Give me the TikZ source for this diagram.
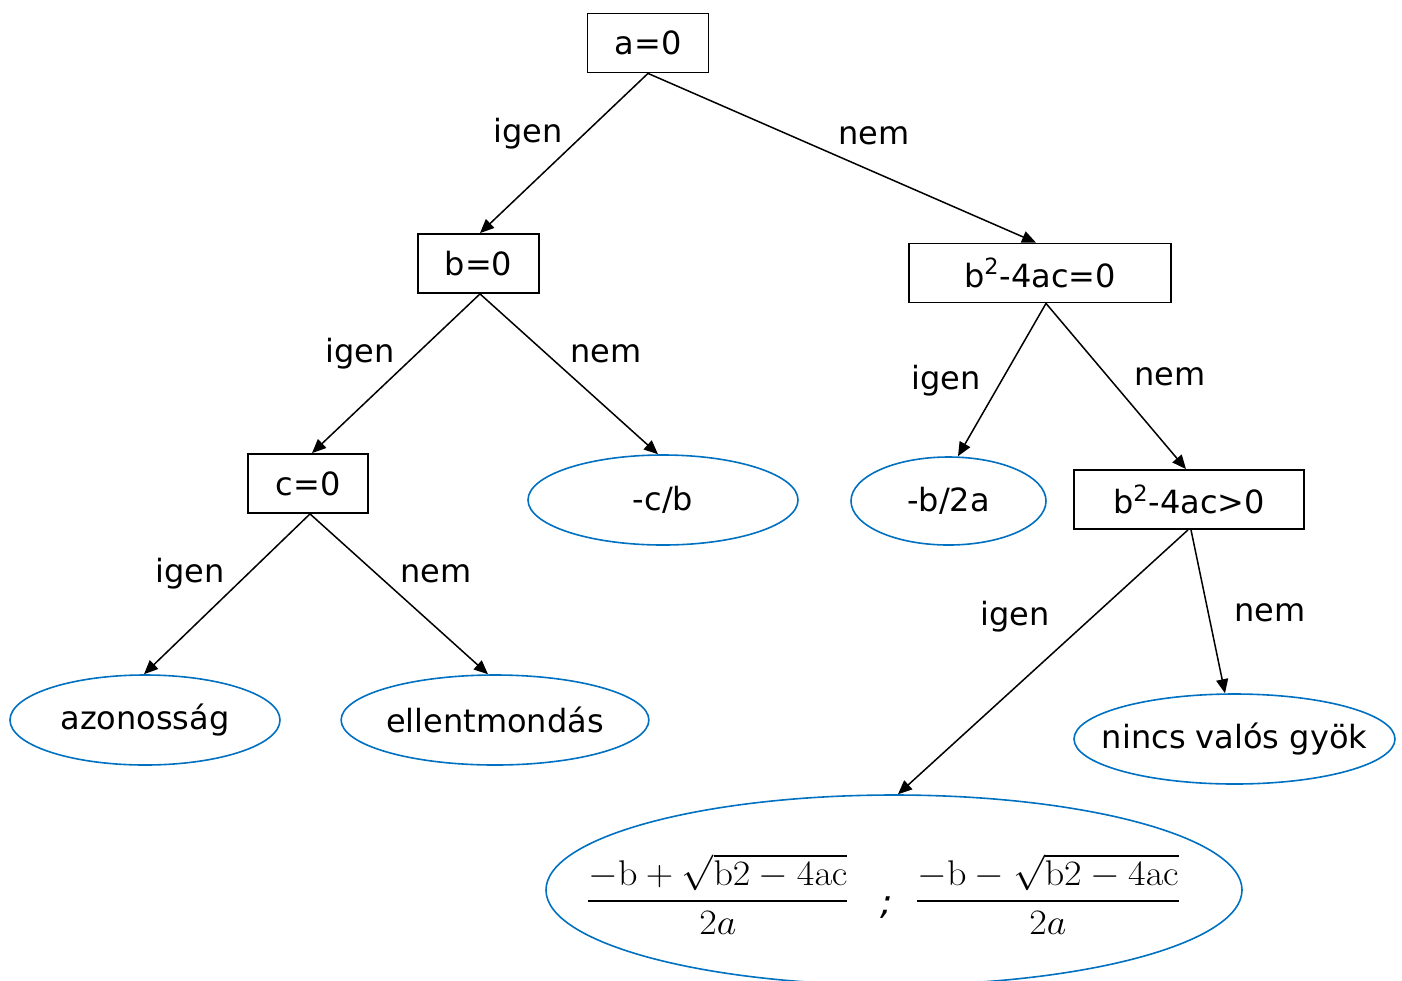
\documentclass[tikz,border=0pt]{standalone}
\usepackage{amsmath}
\usepackage{graphicx}
\usepackage[no-math]{fontspec}
\setmainfont{DejaVu Sans}
\usetikzlibrary{arrows.meta,shapes.geometric,calc}
\definecolor{ellblue}{RGB}{0,112,192}
\tikzset{
  dec/.style={draw=black, line width=0.9pt, rectangle, inner sep=0pt, minimum height=29.5pt},
  res/.style={draw=ellblue, line width=0.8pt, ellipse, inner sep=0pt},
  edge/.style={line width=0.75pt, -{Triangle[length=7pt,width=6pt]}},
  lbl/.style={inner sep=0pt}
}
\newcommand{\rootfrac}[1]{\genfrac{}{}{1.5pt}{0}{-\mathrm{b}#1\sqrt{\mathrm{b2}-4\mathrm{ac}}}{2a}}
\begin{document}
\begin{tikzpicture}[x=0.5pt,y=-0.5pt,font=\fontsize{16}{19}\selectfont]
\useasboundingbox (0,0) rectangle (1402,980);
% decision boxes
\node[dec, minimum width=60.5pt] (a)  at (648,43)  {a=0};
\node[dec, minimum width=60.5pt] (b)  at (478.5,263.5) {b=0};
\node[dec, minimum width=131pt]  (d)  at (1040,273) {b\textsuperscript{2}-4ac=0};
\node[dec, minimum width=60pt]   (c)  at (308,483.5) {c=0};
\node[dec, minimum width=115pt]  (p)  at (1189,499.5) {b\textsuperscript{2}-4ac>0};
% results
\node[res, minimum width=135pt, minimum height=45pt] (cb)  at (663,500) {-c/b};
\node[res, minimum width=97.5pt, minimum height=44pt] (b2a) at (948.5,501) {-b/2a};
\node[res, minimum width=135pt, minimum height=45pt] (az)  at (145,720) {azonosság};
\node[res, minimum width=153pt, minimum height=45pt] (el)  at (495,720) {ellentmondás};
\node[res, minimum width=160.5pt, minimum height=45pt] (nv) at (1234.5,739) {\makebox[0pt]{nincs valós gyök}};
\node[res, minimum width=348pt, minimum height=95pt] (fo) at (894,890) {};
\node[inner sep=0pt] (fot) at (883.5,894)
  {\scalebox{0.918}[0.86]{\fontsize{20}{24}\selectfont$\displaystyle\rootfrac{+}$\hspace{17pt}\raisebox{-3pt}{\textit{;}}\hspace{12pt}$\displaystyle\rootfrac{-}$}};
% connectors
\draw[edge] ($(a.south)+(0,0)$)   -- ($(b.north)+(1.5,0)$);
\draw[edge] ($(a.south)+(0,0)$)   -- ($(d.north)+(-4,0)$);
\draw[edge] ($(b.south)+(1.5,0)$) -- ($(c.north)+(4,0)$);
\draw[edge] ($(b.south)+(1.5,0)$) -- ($(cb.north)+(-5,0)$);
\draw[edge] ($(d.south)+(6,0)$)   -- ($(b2a.north)+(9.5,0)$);
\draw[edge] ($(d.south)+(6,0)$)   -- ($(p.north)+(-3,0)$);
\draw[edge] ($(c.south)+(2,0)$)   -- ($(az.north)+(-1,0)$);
\draw[edge] ($(c.south)+(2,0)$)   -- ($(el.north)+(-7,0)$);
\draw[edge] ($(p.south)+(-1,0)$)  -- ($(fo.north)+(4,0)$);
\draw[edge] ($(p.south)+(2,0)$)   -- ($(nv.north)+(-9.5,0)$);
% branch labels
\node[lbl] (l1) at (528,134) {igen};
\node[lbl] (l2) at (874,136) {nem};
\node[lbl] (l3) at (360,354) {igen};
\node[lbl] (l4) at (606,354) {nem};
\node[lbl] (l5) at (946,381) {igen};
\node[lbl] (l6) at (1170,377) {nem};
\node[lbl] (l7) at (190,574) {igen};
\node[lbl] (l8) at (436,574) {nem};
\node[lbl] (l9) at (1015,617) {igen};
\node[lbl] (l10) at (1270,613) {nem};
\end{tikzpicture}
\end{document}
